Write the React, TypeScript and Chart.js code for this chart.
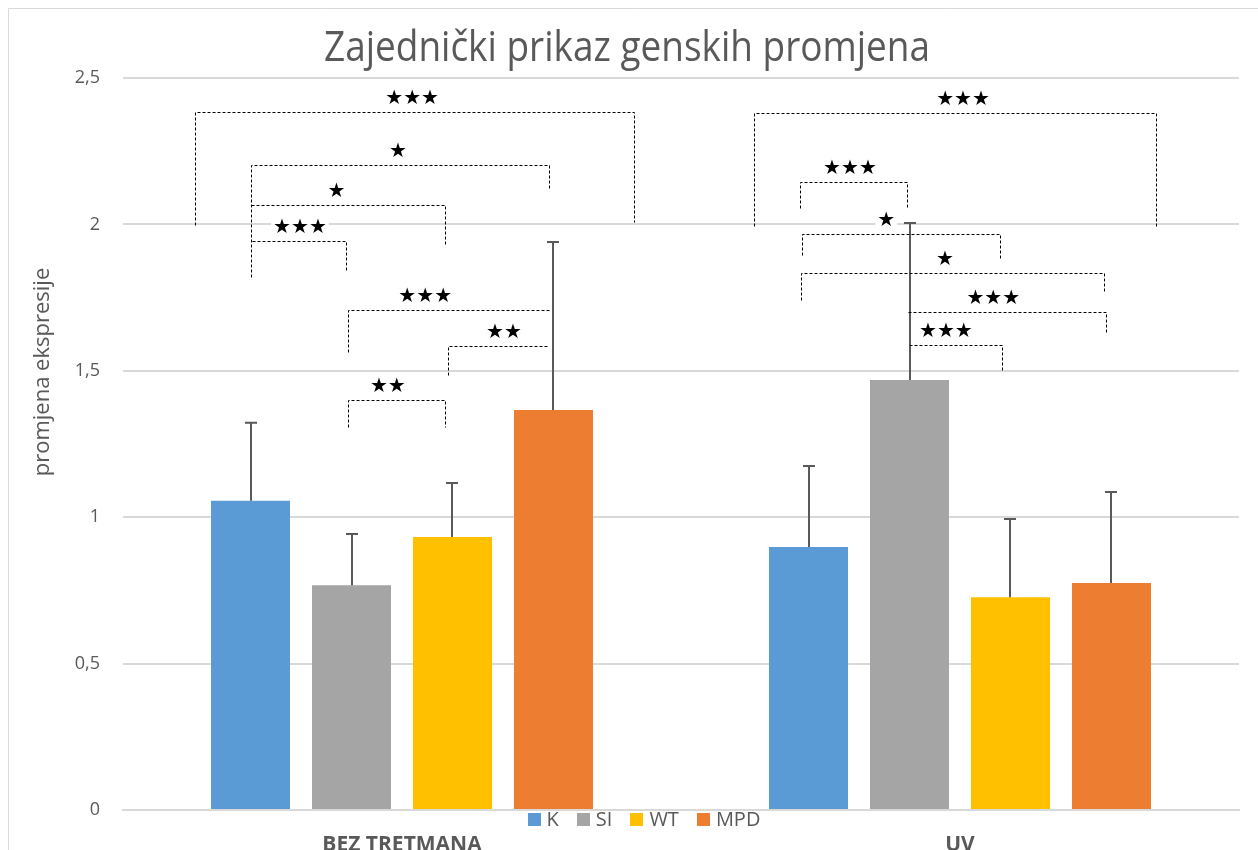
import React, { useEffect, useRef } from "react";
import { Chart, registerables } from "chart.js";

Chart.register(...registerables);

// ---------- data ----------
const CATEGORIES = ["BEZ TRETMANA", "UV"];
const SERIES_NAMES = ["K", "SI", "WT", "MPD"];
const SERIES_COLORS = ["#5B9BD5", "#A5A5A5", "#FFC000", "#ED7D31"];

const K_VALUES = [1.056, 0.898];
const SI_VALUES = [0.768, 1.469];
const WT_VALUES = [0.932, 0.727];
const MPD_VALUES = [1.366, 0.775];

const K_ERRORS = [0.267, 0.277];
const SI_ERRORS = [0.175, 0.536];
const WT_ERRORS = [0.185, 0.267];
const MPD_ERRORS = [0.574, 0.311];

const Y_MIN = 0;
const Y_MAX = 2.5;
const Y_STEP = 0.5;

const TITLE = "Zajednički prikaz genskih promjena";
const Y_TITLE = "promjena ekspresije";

// significance brackets: [category, fromBar, toBar, topValue, leftLegEnd, rightLegEnd, labelAtBar, stars]
const BRACKETS_BEZ: number[][] = [
  [0, -0.55, 3.8, 2.384, 1.998, 2.008, 1.6, 3],
  [0, 0, 2.955, 2.203, 1.82, 2.117, 1.46, 1],
  [0, 0, 1.926, 2.066, 2.066, 1.93, 0.85, 1],
  [0, 0.015, 0.946, 1.943, 1.943, 1.837, 0.49, 3],
  [0, 0.965, 2.965, 1.708, 1.564, 1.708, 1.73, 3],
  [0, 1.955, 2.955, 1.585, 1.486, 1.585, 2.51, 2],
  [0, 0.965, 1.926, 1.4, 1.308, 1.308, 1.36, 2],
];
const BRACKETS_UV: number[][] = [
  [1, -0.54, 3.44, 2.38, 1.995, 1.995, 1.53, 3],
  [1, -0.08, 0.98, 2.145, 2.056, 2.056, 0.41, 3],
  [1, -0.06, 1.896, 1.967, 1.895, 1.885, 0.77, 1],
  [1, -0.07, 2.925, 1.834, 1.742, 1.766, 1.35, 1],
  [1, 0.985, 2.945, 1.701, 1.701, 1.633, 1.83, 3],
  [1, 0.995, 1.916, 1.588, 1.588, 1.496, 1.36, 3],
];

const VALUES = [K_VALUES, SI_VALUES, WT_VALUES, MPD_VALUES];
const ERRORS = [K_ERRORS, SI_ERRORS, WT_ERRORS, MPD_ERRORS];

const TEXT_COLOR = "#595959";
const GRID_COLOR = "#D9D9D9";
const W = 1250;
const H = 842;

const errorBarPlugin = {
  id: "errorBars",
  afterDatasetsDraw(chart: any) {
    const ctx = chart.ctx;
    const yScale = chart.scales.y;
    ctx.save();
    ctx.strokeStyle = "#595959";
    ctx.lineWidth = 2;
    ctx.setLineDash([]);
    VALUES.forEach((vals, i) => {
      const meta = chart.getDatasetMeta(i);
      meta.data.forEach((el: any, j: number) => {
        const x = Math.round(el.x);
        const yTop = yScale.getPixelForValue(vals[j]);
        const yErr = yScale.getPixelForValue(vals[j] + ERRORS[i][j]);
        ctx.beginPath();
        ctx.moveTo(x, yTop);
        ctx.lineTo(x, yErr);
        ctx.moveTo(x - 6, yErr);
        ctx.lineTo(x + 6, yErr);
        ctx.stroke();
      });
    });
    ctx.restore();
  },
};

const bracketPlugin = {
  id: "brackets",
  afterDatasetsDraw(chart: any) {
    const ctx = chart.ctx;
    const yScale = chart.scales.y;
    const all = [...BRACKETS_BEZ, ...BRACKETS_UV];
    ctx.save();
    all.forEach((b) => {
      const [cat, from, to, top, lEnd, rEnd, labelAt, stars] = b;
      const m0 = chart.getDatasetMeta(0).data[cat];
      const m1 = chart.getDatasetMeta(1).data[cat];
      const pitch = m1.x - m0.x;
      const px = (idx: number) => Math.round(m0.x + idx * pitch) + 0.5;
      const x1 = px(from);
      const x2 = px(to);
      const yT = Math.round(yScale.getPixelForValue(top)) + 0.5;
      const yL = Math.round(yScale.getPixelForValue(lEnd)) + 0.5;
      const yR = Math.round(yScale.getPixelForValue(rEnd)) + 0.5;
      ctx.strokeStyle = "#000";
      ctx.lineWidth = 1;
      ctx.setLineDash([3, 2]);
      ctx.beginPath();
      ctx.moveTo(x1, yL);
      ctx.lineTo(x1, yT);
      ctx.lineTo(x2, yT);
      ctx.lineTo(x2, yR);
      ctx.stroke();
      ctx.setLineDash([]);
      const label = "★".repeat(stars);
      ctx.font = '20px "DejaVu Sans"';
      const tw = ctx.measureText(label).width;
      const lx = m0.x + labelAt * pitch;
      const ly = yT - 14;
      ctx.fillStyle = "#fff";
      ctx.fillRect(lx - tw / 2 - 2, ly - 9, tw + 4, 18);
      ctx.fillStyle = "#000";
      ctx.textAlign = "center";
      ctx.textBaseline = "middle";
      ctx.fillText(label, lx, ly);
    });
    ctx.restore();
  },
};

const decorPlugin = {
  id: "decor",
  afterDraw(chart: any) {
    const ctx = chart.ctx;
    ctx.save();
    // outer border
    ctx.strokeStyle = GRID_COLOR;
    ctx.lineWidth = 1;
    ctx.beginPath();
    ctx.moveTo(0.5, H);
    ctx.lineTo(0.5, 0.5);
    ctx.lineTo(W, 0.5);
    ctx.stroke();

    // title
    ctx.fillStyle = TEXT_COLOR;
    ctx.textAlign = "center";
    ctx.textBaseline = "alphabetic";
    ctx.save();
    ctx.translate(619, 53);
    ctx.scale(0.88, 1);
    ctx.font = '42px "Open Sans"';
    ctx.fillText(TITLE, 0, 0);
    ctx.restore();

    // y axis title
    ctx.save();
    ctx.translate(35, 364);
    ctx.rotate(-Math.PI / 2);
    ctx.font = '22px "Open Sans"';
    ctx.textBaseline = "middle";
    ctx.fillText(Y_TITLE, 0, 0);
    ctx.restore();

    // legend
    ctx.font = '20px "Open Sans"';
    const box = 13;
    const gapBox = 6;
    const gapItem = 18;
    const widths = SERIES_NAMES.map((n) => box + gapBox + ctx.measureText(n).width);
    const total = widths.reduce((a, b) => a + b, 0) + gapItem * (SERIES_NAMES.length - 1);
    let x = 636 - total / 2;
    const cy = 811.5;
    ctx.textAlign = "left";
    ctx.textBaseline = "middle";
    SERIES_NAMES.forEach((n, i) => {
      ctx.fillStyle = SERIES_COLORS[i];
      ctx.fillRect(Math.round(x), Math.round(cy - box / 2), box, box);
      ctx.fillStyle = TEXT_COLOR;
      ctx.fillText(n, x + box + gapBox, cy + 1);
      x += widths[i] + gapItem;
    });
    ctx.restore();
  },
};

export default function App() {
  const ref = useRef<HTMLCanvasElement | null>(null);
  useEffect(() => {
    if (!ref.current) return;
    const chart = new Chart(ref.current, {
      type: "bar",
      data: {
        labels: CATEGORIES,
        datasets: SERIES_NAMES.map((name, i) => ({
          label: name,
          data: VALUES[i],
          backgroundColor: SERIES_COLORS[i],
          borderWidth: 0,
          categoryPercentage: 0.724,
          barPercentage: 0.782,
        })),
      },
      options: {
        responsive: false,
        devicePixelRatio: 1,
        animation: false,
        layout: { padding: { top: 70, right: 19, left: 0, bottom: 0 } },
        plugins: {
          legend: { display: false },
          title: { display: false },
          tooltip: { enabled: false },
        },
        scales: {
          x: {
            grid: { display: false, drawTicks: false },
            border: { display: true, color: GRID_COLOR, width: 2 },
            ticks: {
              color: TEXT_COLOR,
              font: { family: "Open Sans", size: 21, weight: "bold" },
              padding: 22,
            },
            afterFit: (s: any) => {
              s.height = 40;
            },
          },
          y: {
            min: Y_MIN,
            max: Y_MAX,
            grid: { color: GRID_COLOR, lineWidth: 2, drawTicks: false },
            border: { display: false },
            ticks: {
              stepSize: Y_STEP,
              color: TEXT_COLOR,
              font: { family: "Open Sans", size: 18 },
              padding: 23,
              callback: (v: any) => String(v).replace(".", ","),
            },
            afterFit: (s: any) => {
              s.width = 115;
            },
          },
        },
      },
      plugins: [errorBarPlugin, bracketPlugin, decorPlugin],
    });
    return () => chart.destroy();
  }, []);
  return (
    <div style={{ position: "fixed", left: 8, top: 8, width: W, height: H }}>
      <canvas ref={ref} width={W} height={H} style={{ width: W, height: H, display: "block" }} />
    </div>
  );
}
